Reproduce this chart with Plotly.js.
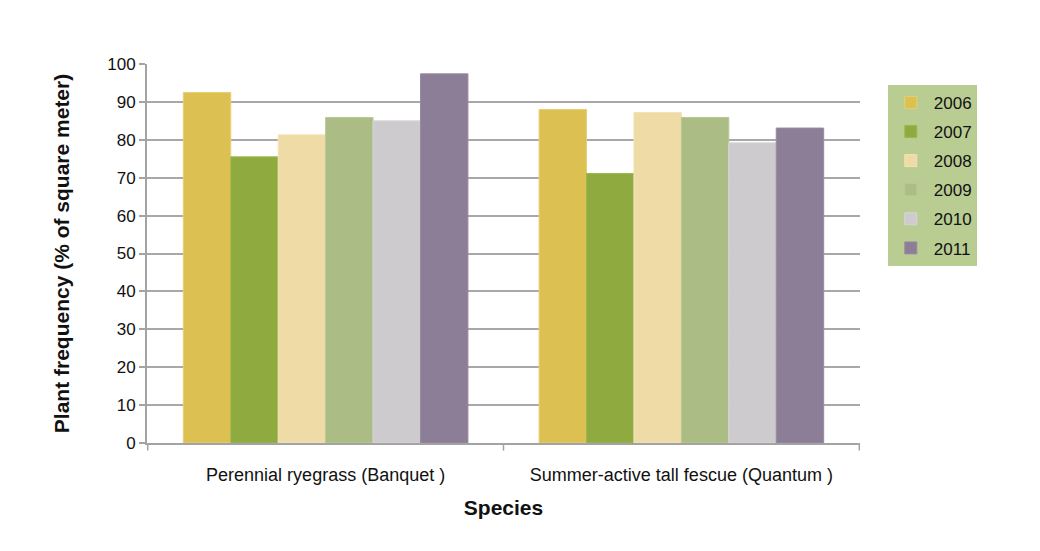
<!DOCTYPE html>
<html>
<head>
<meta charset="utf-8">
<script src="https://cdn.plot.ly/plotly-3.0.1.min.js"></script>
<style>
  html, body { margin: 0; padding: 0; background: #fff; }
  #chart { width: 1040px; height: 551px; }
</style>
</head>
<body>
<div id="chart"></div>
<script>
// Categories and series
const species = ['Perennial ryegrass (Banquet )', 'Summer-active tall fescue (Quantum )'];
const years = ['2006', '2007', '2008', '2009', '2010', '2011'];
const v2006 = [92.5, 88.0];
const v2007 = [75.5, 71.1];
const v2008 = [81.3, 87.2];
const v2009 = [85.9, 85.9];
const v2010 = [85.0, 79.2];
const v2011 = [97.4, 83.1];

const series = [v2006, v2007, v2008, v2009, v2010, v2011];
const colors = ['#dcc052', '#8fab3f', '#eedba6', '#abbd84', '#cdcbcd', '#8b7e96'];
const edges = ['#e6d074', '#9cb752', '#f3e4b8', '#b8c895', '#d8d6d8', '#978aa2'];

const traces = series.map((vals, i) => ({
    type: 'bar',
    x: species,
    y: vals,
    name: years[i],
    legendgroup: years[i],
    marker: { color: colors[i], line: { color: edges[i], width: 1 } },
    hovertemplate: years[i] + ': %{y}<extra></extra>'
}));

const font = 'Liberation Sans, Arial, Helvetica, sans-serif';

const layout = {
    width: 1040,
    height: 551,
    paper_bgcolor: '#ffffff',
    plot_bgcolor: '#ffffff',
    font: { family: font, color: '#111', size: 17 },
    margin: { l: 147, r: 180, t: 64, b: 108 },
    barmode: 'group',
    bargap: 0.2,
    bargroupgap: 0,
    xaxis: {
        showline: true,
        linecolor: '#a3a3a3',
        linewidth: 2,
        ticks: '',
        ticklabelstandoff: 14,
        tickfont: { size: 18, color: '#111' },
        title: { text: '<b>Species</b>', font: { size: 21, color: '#111' }, standoff: 17 },
        showgrid: false,
        automargin: false
    },
    yaxis: {
        range: [0, 100],
        dtick: 10,
        showline: true,
        linecolor: '#a3a3a3',
        linewidth: 2,
        ticks: 'outside',
        ticklen: 6,
        tickcolor: '#a3a3a3',
        tickwidth: 1.5,
        tickfont: { size: 17, color: '#111' },
        gridcolor: '#a8a8a8',
        gridwidth: 1.5,
        zeroline: false,
        automargin: false,
        title: { text: '<b>Plant frequency (% of square meter)</b>', font: { size: 21, color: '#111' }, standoff: 32 }
    },
    showlegend: true,
    legend: {
        x: 1.039,
        y: 0.945,
        xanchor: 'left',
        yanchor: 'top',
        bgcolor: '#b9cc91',
        borderwidth: 0,
        font: { size: 17, color: '#111' },
        traceorder: 'grouped',
        tracegroupgap: 4,
        itemwidth: 36,
        entrywidth: 100,
        entrywidthmode: 'pixels'
    },
    shapes: [
        // category separator ticks on the x axis
        { type: 'line', xref: 'x', yref: 'paper', x0: -0.5, x1: -0.5, y0: 0, y1: -0.02, line: { color: '#a3a3a3', width: 1.5 } },
        { type: 'line', xref: 'x', yref: 'paper', x0: 0.5, x1: 0.5, y0: 0, y1: -0.02, line: { color: '#a3a3a3', width: 1.5 } },
        { type: 'line', xref: 'x', yref: 'paper', x0: 1.5, x1: 1.5, y0: 0, y1: -0.02, line: { color: '#a3a3a3', width: 1.5 } }
    ]
};

Plotly.newPlot('chart', traces, layout, { displayModeBar: false, responsive: false });
</script>
</body>
</html>
